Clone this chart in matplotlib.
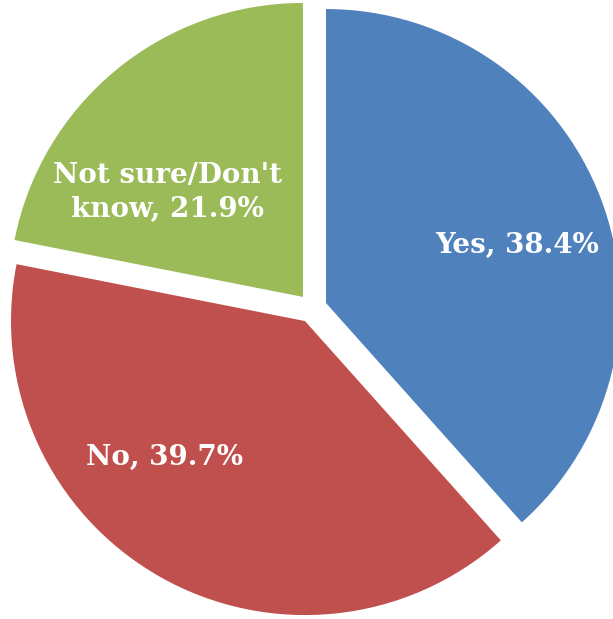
import matplotlib
matplotlib.use('Agg')
import matplotlib.pyplot as plt
import numpy as np

# survey answers, clockwise from 12 o'clock
answers = ['Yes', 'No', "Not sure/Don't\nknow"]
shares = [38.4, 39.7, 21.9]
colors = ['#4F81BD', '#C0504D', '#9BBB59']

# label centres in data units (pie radius = 1)
label_xy = [(0.696, 0.212), (-0.501, -0.509), (-0.491, 0.394)]

fig = plt.figure(figsize=(6.13, 6.19), dpi=100)
ax = fig.add_axes([0, 0, 1, 1])

wedges, _ = ax.pie(shares, colors=colors, startangle=90, counterclock=False,
                   explode=[0.05] * len(shares), radius=1.0,
                   wedgeprops=dict(linewidth=0))

for name, val, (x, y) in zip(answers, shares, label_xy):
    ax.text(x, y, f'{name}, {val}%', ha='center', va='center',
            color='white', fontsize=20, fontweight='bold',
            family=['DejaVu Serif'], linespacing=1.37)

ax.set_xlim(-1.0622, 1.0228)
ax.set_ylim(-1.0568, 1.0486)
ax.set_aspect('equal')
ax.axis('off')

fig.savefig('out.png', dpi=100, facecolor='white')
